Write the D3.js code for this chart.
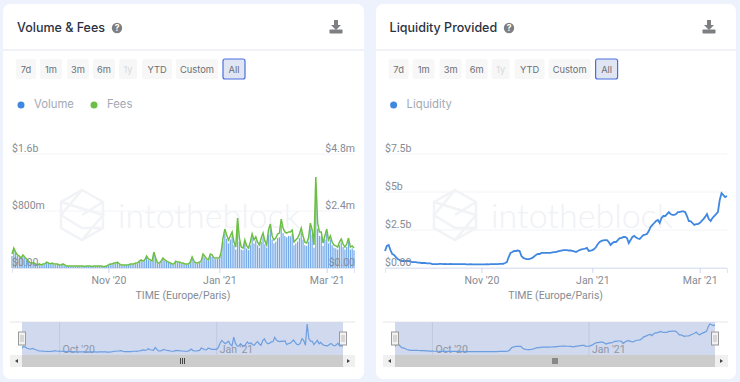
<!DOCTYPE html>
<html>
<head>
<meta charset="utf-8">
<script src="https://cdn.jsdelivr.net/npm/d3@7"></script>
<style>
  body { margin: 0; background: #edf2fc; }
  svg { display: block; font-family: Inter, "Noto Sans", sans-serif; }
</style>
</head>
<body>
<div id="my_dataviz"></div>
<script>
// daily data (9 Sep 2020 -> 16 Mar 2021)
var volume = [170,250,210,170,150,130,160,140,110,90,
  60,60,55,50,40,45,40,45,50,70,
  60,50,60,50,45,50,40,35,45,35,
  25,25,22,25,25,22,25,25,22,25,
  18,25,25,22,18,25,22,25,25,22,
  18,18,25,35,50,50,60,65,75,50,
  35,35,38,35,38,50,50,48,60,60,
  85,100,85,100,150,110,100,85,200,125,
  60,60,85,125,100,85,75,60,50,50,
  85,75,75,60,60,50,50,50,75,135,
  85,60,60,75,85,175,150,110,100,175,
  160,125,125,125,125,200,370,480,410,345,
  400,450,320,260,610,370,260,250,345,275,
  250,320,420,345,385,320,285,370,430,335,
  285,470,540,400,345,370,420,430,600,490,
  450,430,450,445,470,320,345,370,420,495,
  400,320,310,370,550,470,285,1130,550,450,
  445,310,400,480,345,400,320,285,275,260,
  320,360,295,260,295,370,260,275,250];

var fees = [.59,.84,.67,.55,.5,.42,.55,.46,.38,.29,
  .21,.21,.21,.17,.13,.17,.13,.17,.17,.25,
  .21,.17,.21,.17,.17,.17,.13,.13,.17,.13,
  .08,.08,.08,.08,.08,.08,.08,.08,.08,.08,
  .06,.08,.08,.08,.06,.08,.08,.08,.08,.08,
  .06,.06,.08,.13,.17,.17,.21,.21,.25,.17,
  .13,.13,.13,.13,.13,.17,.17,.17,.21,.21,
  .29,.34,.29,.34,.5,.38,.34,.29,.67,.42,
  .21,.21,.29,.42,.34,.29,.25,.21,.17,.17,
  .29,.25,.25,.21,.21,.17,.17,.17,.25,.46,
  .29,.21,.21,.25,.29,.59,.5,.38,.34,.59,
  .55,.42,.42,.42,.42,.67,1.26,1.64,1.39,1.18,
  1.35,1.52,1.09,.88,2.1,1.26,.88,.84,1.18,.93,
  .84,1.09,1.43,1.18,1.31,1.09,.97,1.26,1.47,1.14,
  .97,1.6,1.85,1.35,1.18,1.26,1.43,1.47,2.06,1.68,
  1.52,1.47,1.52,1.52,1.6,1.09,1.18,1.26,1.43,1.68,
  1.35,1.09,1.05,1.26,1.89,1.6,.97,3.83,1.89,1.52,
  1.52,1.05,1.35,1.64,1.18,1.35,1.09,.97,.93,.88,
  1.09,1.22,1.01,.88,1.01,1.26,.88,.93,.84];

var liquidity = [1.12,1.45,1.51,1.18,.92,.86,.72,.59,.53,.46,
  .46,.46,.46,.46,.43,.39,.39,.39,.36,.36,
  .33,.33,.33,.3,.3,.3,.26,.26,.26,.26,
  .27,.27,.26,.27,.26,.26,.27,.26,.26,.26,
  .25,.25,.26,.25,.25,.24,.24,.25,.24,.24,
  .24,.24,.24,.24,.24,.24,.25,.24,.25,.25,
  .25,.26,.26,.27,.27,.28,.33,.39,.72,.99,
  1.05,1.12,1.12,1.15,1.12,.79,.66,.62,.59,.59,
  .62,.66,.76,.86,.92,.92,.99,.99,.99,.99,
  .99,.99,1.02,1.05,1.05,1.09,1.12,1.15,1.18,1.18,
  1.18,1.15,1.15,1.12,1.09,1.05,1.12,1.18,1.22,1.25,
  1.28,1.32,1.12,1.15,1.18,1.25,1.38,1.58,1.71,1.78,
  1.81,1.84,1.84,1.71,1.51,1.64,1.71,1.71,1.84,1.97,
  1.97,2.04,2.04,1.97,1.64,1.84,2.04,2.11,2.01,1.94,
  1.91,2.04,2.17,2.2,2.24,2.43,2.7,2.83,2.96,3.09,
  3.16,2.96,3.29,3.42,3.42,3.55,3.68,3.55,3.49,3.49,
  3.55,3.68,3.68,3.72,3.72,3.68,3.42,3.09,3.09,2.96,
  2.83,2.89,2.89,2.96,3.09,3.22,3.36,3.55,3.22,3.09,
  3.29,3.42,3.55,3.68,4.47,4.93,4.8,4.67,4.74];

var rangeButtons = ["7d","1m","3m","6m","1y","YTD","Custom","All"];
var xTicks = [new Date(2020,10,1), new Date(2021,0,1), new Date(2021,2,1)];
var navTicks = [new Date(2020,9,1), new Date(2021,0,1)];
var volumeTicks = [0, 800, 1600];
var volumeLabels = ["$0.00","$800m","$1.6b"];
var feesTicks = [0, 2.4, 4.8];
var feesLabels = ["$0.00","$2.4m","$4.8m"];
var liquidityTicks = [0, 2.5, 5, 7.5];
var liquidityLabels = ["$0.00","$2.5b","$5b","$7.5b"];

var dates = volume.map(function(d, i) { return new Date(2020, 8, 9 + i); });

var BLUE = "#3f87e0", GREEN = "#6cbe45";
var AXIS_FONT = "Roboto", AXIS_GREY = "#858b94";

var svg = d3.select("#my_dataviz").append("svg")
  .attr("width", 740).attr("height", 382);

function fmtTick(d) {
  var m = d3.timeFormat("%b")(d);
  return m + " '" + d3.timeFormat("%y")(d);
}

function yAxis(g, scale, ticks, labels, right, x) {
  var ax = right ? d3.axisLeft(scale) : d3.axisRight(scale);
  ax.tickValues(ticks).tickSize(0).tickPadding(0)
    .tickFormat(function(d, i) { return labels[i]; });
  g.append("g").attr("transform", "translate(" + x + ",0)").call(ax)
    .call(function(s) { s.select(".domain").remove(); })
    .selectAll("text")
      .attr("y", -6).attr("dy", "0.32em")
      .attr("font-size", 10.5).attr("font-family", AXIS_FONT)
      .attr("fill", AXIS_GREY);
}

function panel(p) {
  var g = svg.append("g");
  // card
  g.append("rect").attr("x", p.card).attr("y", 4).attr("width", p.cardW).attr("height", 375)
    .attr("rx", 7).attr("fill", "#fff");
  g.append("line").attr("x1", p.card).attr("x2", p.card + p.cardW).attr("y1", 50).attr("y2", 50)
    .attr("stroke", "#eceef2").attr("stroke-width", 1.5);

  // header
  g.append("text").attr("x", p.off + 17).attr("y", 32).text(p.title)
    .attr("font-size", 12.5).attr("font-weight", 500).attr("fill", "#2b3140");
  var help = g.append("g").attr("transform", "translate(" + p.help + ",28)");
  help.append("circle").attr("r", 5.2).attr("fill", "#7d7f82");
  help.append("text").text("?").attr("text-anchor", "middle").attr("y", 3.2)
    .attr("font-size", 8.5).attr("font-weight", 700).attr("fill", "#fff");
  var dl = g.append("g").attr("transform", "translate(" + p.download + ",27)").attr("fill", "#7d7f82");
  dl.append("path").attr("d", "M-2,-7H2V-2H5L0,3L-5,-2H-2Z");
  dl.append("rect").attr("x", -6.5).attr("y", 2.5).attr("width", 13).attr("height", 4).attr("rx", 0.8);

  // range buttons
  var btnX = [16, 40, 67, 93, 119, 142, 176, 223];
  var btnW = [20, 22, 22, 22, 18, 30, 42, 22];
  rangeButtons.forEach(function(b, i) {
    var on = b == "All";
    g.append("rect").attr("x", p.off + btnX[i]).attr("y", 59).attr("width", btnW[i]).attr("height", 20)
      .attr("rx", 2).attr("fill", on ? "#dfe5f3" : "#f7f7f7")
      .attr("stroke", on ? "#4a6fdc" : "none").attr("stroke-width", 1.2);
    g.append("text").attr("x", p.off + btnX[i] + btnW[i] / 2).attr("y", 72.5).text(b)
      .attr("text-anchor", "middle").attr("font-size", 9.3)
      .attr("fill", b == "1y" ? "#d8d8d8" : "#6b6f75");
  });

  // legend
  p.legend.forEach(function(l) {
    g.append("circle").attr("cx", p.off + l.x).attr("cy", 105).attr("r", 3.5).attr("fill", l.color);
    g.append("text").attr("x", p.off + l.x + 13).attr("y", 108).text(l.name)
      .attr("font-size", 11.3).attr("fill", "#a3a9b3");
  });

  // watermark
  var wm = g.append("g").attr("transform", "translate(" + p.wmX + ",215)")
    .attr("fill", "none").attr("stroke", "#f1f3f6").attr("stroke-width", 2.5);
  wm.append("path").attr("d", "M0,-25L21,-13V13L0,25L-21,13V-13Z");
  wm.append("path").attr("d", "M0,-25L-21,0L0,13L21,13M-21,-13L21,0L0,25M21,-13L0,0");
  g.append("text").attr("x", p.wmX + 36).attr("y", 228).text("intotheblock")
    .attr("font-size", 34).attr("font-weight", 300).attr("font-family", "Lato")
    .attr("fill", "#eff1f5");

  // scales
  var x = d3.scaleTime().domain([dates[0], dates[dates.length - 1]]).range([p.x0, p.x1]);

  // grid
  p.grid.forEach(function(v) {
    g.append("line").attr("x1", p.x0).attr("x2", p.x1).attr("y1", p.y(v)).attr("y2", p.y(v))
      .attr("stroke", v == 0 ? "#dfe5f2" : "#f3f4f7");
  });

  p.marks(g, x);

  // x axis
  g.append("g").attr("transform", "translate(0,268)")
    .call(d3.axisBottom(x).tickValues(xTicks).tickSize(5).tickPadding(4).tickFormat(fmtTick))
    .call(function(s) {
      s.select(".domain").attr("stroke", "#dfe5f2");
      s.selectAll("line").attr("stroke", "#ccd6eb");
      s.selectAll("text").attr("font-size", 10.5).attr("font-family", AXIS_FONT).attr("fill", AXIS_GREY);
    });
  g.append("text").attr("x", p.off + 183).attr("y", 299).text("TIME (Europe/Paris)")
    .attr("text-anchor", "middle").attr("font-size", 10.5).attr("font-family", AXIS_FONT).attr("fill", AXIS_GREY);

  p.axes(g);

  // navigator
  var nx = d3.scaleTime().domain(x.domain()).range([p.n0, p.n1]);
  var left = p.x0 - 2, right = p.x1 + 1;
  g.append("line").attr("x1", left).attr("x2", right).attr("y1", 322).attr("y2", 322).attr("stroke", "#e6e6e6");
  g.append("rect").attr("x", p.n0).attr("y", 322).attr("width", p.n1 - p.n0).attr("height", 33)
    .attr("fill", "#d0d9ee");
  navTicks.forEach(function(t) {
    g.append("line").attr("x1", nx(t)).attr("x2", nx(t)).attr("y1", 322).attr("y2", 355)
      .attr("stroke", "#bcc6dc").attr("stroke-width", 0.8);
    g.append("text").attr("x", nx(t) + 3).attr("y", 352.5).text(fmtTick(t))
      .attr("font-size", 10.5).attr("font-family", AXIS_FONT).attr("fill", "#8f96a3");
  });
  g.append("path").datum(p.navData)
    .attr("fill", "none").attr("stroke", "#6d9ee0").attr("stroke-width", 1.2)
    .attr("d", d3.line().x(function(d, i) { return nx(dates[i]); }).y(function(d) { return p.ny(d); }));

  // scrollbar
  g.append("rect").attr("x", left).attr("y", 355).attr("width", right - left).attr("height", 12).attr("fill", "#f0f0f0");
  g.append("rect").attr("x", p.n0).attr("y", 355).attr("width", p.n1 - p.n0).attr("height", 12).attr("fill", "#cccccc");
  var mid = (p.n0 + p.n1) / 2;
  [-2, 0, 2].forEach(function(d) {
    g.append("line").attr("x1", mid + d).attr("x2", mid + d).attr("y1", 358).attr("y2", 364).attr("stroke", "#444");
  });
  g.append("path").attr("fill", "#444")
    .attr("d", "M" + (left + 8) + ",359v4l-3,-2Z M" + (right - 8) + ",359v4l3,-2Z");

  // handles
  [p.n0, p.n1].forEach(function(h) {
    g.append("rect").attr("x", h - 3.5).attr("y", 332).attr("width", 7).attr("height", 13)
      .attr("fill", "#f2f2f2").attr("stroke", "#999");
    [-1, 1].forEach(function(d) {
      g.append("line").attr("x1", h + d).attr("x2", h + d).attr("y1", 335).attr("y2", 342).attr("stroke", "#bbb");
    });
  });
}

// Volume & Fees
var yVol = d3.scaleLinear().domain([0, 1600]).range([268, 154]);
var yFees = d3.scaleLinear().domain([0, 4.8]).range([268, 154]);

panel({
  title: "Volume & Fees", off: 0, card: 3, cardW: 361, help: 117, download: 336, wmX: 82,
  x0: 12, x1: 354, n0: 22, n1: 343, y: yVol, grid: [0, 800, 1600],
  legend: [{x: 21, name: "Volume", color: BLUE}, {x: 94, name: "Fees", color: GREEN}],
  navData: volume,
  ny: d3.scaleLinear().domain([0, 1130]).range([352.5, 324]),
  marks: function(g, x) {
    g.append("g").selectAll("rect").data(volume).enter().append("rect")
      .attr("x", function(d, i) { return x(dates[i]) - 0.6; })
      .attr("y", function(d) { return yVol(d); })
      .attr("width", 1.2)
      .attr("height", function(d) { return 268 - yVol(d); })
      .attr("fill", "#74a9e8");
    g.append("path").datum(fees)
      .attr("fill", "none").attr("stroke", GREEN).attr("stroke-width", 1.5)
      .attr("d", d3.line().x(function(d, i) { return x(dates[i]); }).y(function(d) { return yFees(d); }));
  },
  axes: function(g) {
    yAxis(g, yVol, volumeTicks, volumeLabels, false, 12);
    yAxis(g, yFees, feesTicks, feesLabels, true, 355);
  }
});

// Liquidity Provided
var yLiq = d3.scaleLinear().domain([0, 7.5]).range([268, 154]);

panel({
  title: "Liquidity Provided", off: 372.6, card: 376, cardW: 360, help: 509, download: 709, wmX: 455,
  x0: 385, x1: 727, n0: 395, n1: 715, y: yLiq, grid: liquidityTicks,
  legend: [{x: 21, name: "Liquidity", color: BLUE}],
  navData: liquidity,
  ny: d3.scaleLinear().domain([0, 4.93]).range([353, 324]),
  marks: function(g, x) {
    g.append("path").datum(liquidity)
      .attr("fill", "none").attr("stroke", BLUE).attr("stroke-width", 1.8)
      .attr("d", d3.line().x(function(d, i) { return x(dates[i]); }).y(function(d) { return yLiq(d); }));
  },
  axes: function(g) {
    yAxis(g, yLiq, liquidityTicks, liquidityLabels, false, 385);
  }
});
</script>
</body>
</html>
